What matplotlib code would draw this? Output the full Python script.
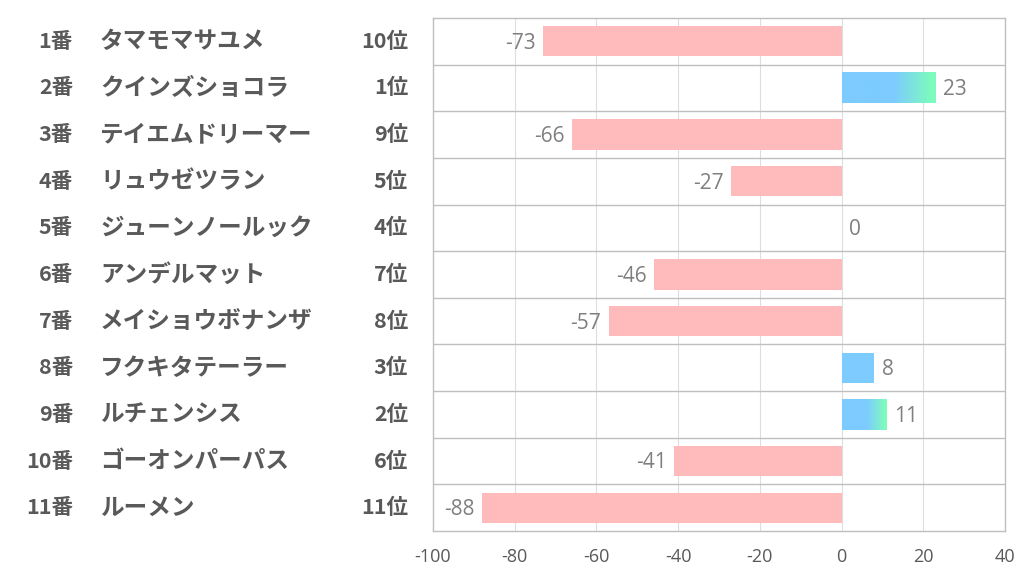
import matplotlib.pyplot as plt
import matplotlib.transforms as mtransforms
from matplotlib.colors import to_rgb
import numpy as np

plt.rcParams['font.family'] = ['Noto Sans CJK JP', 'DejaVu Sans']
plt.rcParams['axes.unicode_minus'] = False

# データ
numbers = ["1番", "2番", "3番", "4番", "5番", "6番", "7番", "8番", "9番", "10番", "11番"]
names = ["タマモマサユメ", "クインズショコラ", "テイエムドリーマー", "リュウゼツラン",
         "ジューンノールック", "アンデルマット", "メイショウボナンザ", "フクキタテーラー",
         "ルチェンシス", "ゴーオンパーパス", "ルーメン"]
ranks = ["10位", "1位", "9位", "5位", "4位", "7位", "8位", "3位", "2位", "6位", "11位"]
values = [-73, 23, -66, -27, 0, -46, -57, 8, 11, -41, -88]

pink = "#FFBBBB"
blue = "#7DCBFF"
green = "#7DFBBE"
grid_c = "#DDDDDD"
line_c = "#BFBFBF"
text_c = "#595959"
lab_c = "#7F7F7F"

fig = plt.figure(figsize=(10.22, 5.74), dpi=100)
ax = fig.add_axes([433/1022, 1 - 531/574, (1005 - 433)/1022, (531 - 18)/574])

h = 0.65
for i, v in enumerate(values):
    if v < 0:
        ax.barh(i, v, height=h, color=pink, zorder=2)
    elif v > 10:
        # グラデーション
        n = 200
        t = np.linspace(0, 1, n)
        f = np.clip((t - 0.55) / 0.4, 0, 1)
        c0, c1 = np.array(to_rgb(blue)), np.array(to_rgb(green))
        img = (c0[None, :] * (1 - f[:, None]) + c1[None, :] * f[:, None])[None, :, :]
        ax.imshow(img, extent=[0, v, i + h/2, i - h/2], aspect='auto', zorder=2,
                  interpolation='bilinear')
    elif v > 0:
        ax.barh(i, v, height=h, color=blue, zorder=2)
    if v < 0:
        ax.text(v - 1.8, i + 0.04, str(v), ha='right', va='center', fontsize=15, color=lab_c,
                family=['Open Sans', 'DejaVu Sans'])
    else:
        ax.text(v + 1.8, i + 0.04, str(v), ha='left', va='center', fontsize=15, color=lab_c,
                family=['Open Sans', 'DejaVu Sans'])

ax.set_aspect('auto')
ax.set_xlim(-100, 40)
ax.set_ylim(len(values) - 0.5, -0.5)

for xv in range(-80, 40, 20):
    ax.axvline(xv, color=grid_c, lw=0.8, zorder=1)
for yv in np.arange(0.5, len(values) - 0.5, 1):
    ax.axhline(yv, color=line_c, lw=1.0, zorder=3)

for s in ax.spines.values():
    s.set_color(line_c)
    s.set_linewidth(1.0)

ax.set_yticks([])
ax.set_xticks(range(-100, 41, 20))
ax.tick_params(axis='x', length=0, pad=12, labelsize=13, labelcolor=text_c)
for lab in ax.get_xticklabels():
    lab.set_family(['Open Sans', 'DejaVu Sans'])

trans = mtransforms.blended_transform_factory(fig.transFigure, ax.transData)
for i in range(len(values)):
    fig.text(73/1022, i, numbers[i], transform=trans, ha='right', va='center',
             fontsize=15.5, fontweight='bold', color=text_c)
    fig.text(100/1022, i, names[i], transform=trans, ha='left', va='center',
             fontsize=17, fontweight='bold', color=text_c)
    fig.text(408/1022, i, ranks[i], transform=trans, ha='right', va='center',
             fontsize=15.5, fontweight='bold', color=text_c)

fig.savefig("out.png", dpi=100)
